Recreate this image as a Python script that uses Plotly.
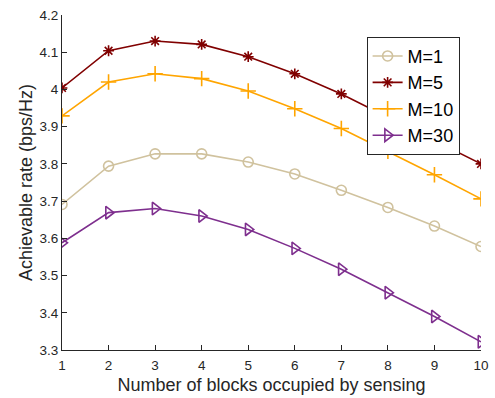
import plotly.graph_objects as go

blocks = [1, 2, 3, 4, 5, 6, 7, 8, 9, 10]
m1 = [3.691, 3.794, 3.827, 3.827, 3.805, 3.773, 3.729, 3.683, 3.633, 3.578]
m5 = [4.004, 4.104, 4.130, 4.121, 4.088, 4.042, 3.988, 3.925, 3.862, 3.800]
m10 = [3.929, 4.020, 4.042, 4.029, 3.996, 3.948, 3.895, 3.834, 3.771, 3.706]
m30 = [3.588, 3.669, 3.680, 3.660, 3.624, 3.573, 3.517, 3.454, 3.390, 3.322]
names = ["M=1", "M=5", "M=10", "M=30"]
y_ticks = [3.3, 3.4, 3.5, 3.6, 3.7, 3.8, 3.9, 4.0, 4.1, 4.2]
y_labels = ["3.3", "3.4", "3.5", "3.6", "3.7", "3.8", "3.9", "4", "4.1", "4.2"]

styles = [
    dict(color="#D0C29E", symbol="circle-open", size=10),
    dict(color="#800000", symbol="asterisk-open", size=9),
    dict(color="#FFA500", symbol="cross-thin-open", size=11),
    dict(color="#7E2F8E", symbol="triangle-right-open", size=11),
]

fig = go.Figure()
for name, vals, st in zip(names, [m1, m5, m10, m30], styles):
    fig.add_trace(go.Scatter(
        x=blocks, y=vals, name=name, mode="lines+markers",
        line=dict(color=st["color"], width=1.6),
        marker=dict(symbol=st["symbol"], size=st["size"], color=st["color"],
                    line=dict(color=st["color"], width=1.6)),
    ))

axis_common = dict(
    showgrid=False, zeroline=False, showline=True, linecolor="#262626",
    linewidth=1, ticks="inside", ticklen=5, tickcolor="#262626",
    tickfont=dict(family="Liberation Sans, Arial, sans-serif", size=13.5, color="#262626"),
    mirror=False, ticklabeloverflow="allow",
)

fig.update_layout(
    width=495, height=398,
    margin=dict(l=62, r=6, t=15, b=47),
    plot_bgcolor="white", paper_bgcolor="white",
    font=dict(family="Liberation Sans, Arial, sans-serif", color="#262626"),
    xaxis=dict(range=[1, 10], tickmode="array", tickvals=blocks,
               ticklabelstandoff=3,
               title=dict(text="Number of blocks occupied by sensing",
                          font=dict(size=18, color="#262626"), standoff=6),
               **axis_common),
    yaxis=dict(range=[3.3, 4.2], tickmode="array", tickvals=y_ticks, ticktext=y_labels,
               title=dict(text="Achievable rate (bps/Hz)",
                          font=dict(size=18, color="#262626"), standoff=2),
               **axis_common),
    legend=dict(x=0.727, y=0.935, xanchor="left", yanchor="top",
                bgcolor="white", bordercolor="#262626", borderwidth=1,
                font=dict(size=18, color="#000000"), tracegroupgap=0,
                itemwidth=30),
    showlegend=True,
)

fig.write_html("out.html")
